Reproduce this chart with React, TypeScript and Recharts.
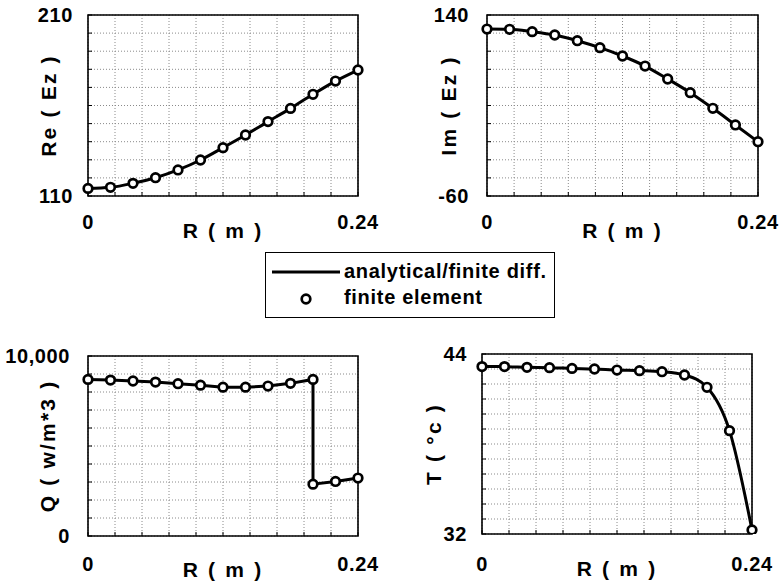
import { CartesianGrid, ComposedChart, Line, ReferenceArea, XAxis, YAxis } from "recharts";

const FONT = '"Liberation Sans", Arial, Helvetica, sans-serif';

// radial positions (m) of the nodes
const rNodes = [0, 0.02, 0.04, 0.06, 0.08, 0.1, 0.12, 0.14, 0.16, 0.18, 0.2, 0.22, 0.24];
// heat source has a jump at r = 0.20, so that node appears twice
const rNodesQ = [0, 0.02, 0.04, 0.06, 0.08, 0.1, 0.12, 0.14, 0.16, 0.18, 0.2, 0.2, 0.22, 0.24];

const reEz = [114.2, 114.8, 117.0, 120.1, 124.4, 129.9, 136.7, 143.7, 151.1, 158.4, 166.2, 173.5, 179.6];
const imEz = [124.5, 124.2, 121.6, 117.9, 111.6, 103.9, 94.7, 83.6, 69.3, 54.2, 36.9, 18.5, 0.0];
const heatQ = [8700, 8660, 8610, 8550, 8460, 8380, 8270, 8270, 8330, 8480, 8700, 2880, 3030, 3220];
const tempT = [43.16, 43.16, 43.11, 43.09, 43.04, 43.0, 42.93, 42.89, 42.82, 42.6, 41.78, 38.89, 32.27];

const rTicks = [0, 0.024, 0.048, 0.072, 0.096, 0.12, 0.144, 0.168, 0.192, 0.216, 0.24];
const reTicks = [110, 120, 130, 140, 150, 160, 170, 180, 190, 200, 210];
const imTicks = [-60, -40, -20, 0, 20, 40, 60, 80, 100, 120, 140];
const qTicks = [0, 1000, 2000, 3000, 4000, 5000, 6000, 7000, 8000, 9000, 10000];
const tTicks = [32, 33, 34, 35, 36, 37, 38, 39, 40, 41, 42, 43, 44];

const legendItems = ["analytical/finite diff.", "finite element"];

const toRows = (xs: number[], ys: number[]) => xs.map((r, i) => ({ r, v: ys[i] }));

const tickStyle = { fontSize: 20, fontWeight: 700, fill: "#000", fontFamily: FONT, letterSpacing: 0.6 };
const labelStyle = { fontSize: 21, fontWeight: 700, fill: "#000", fontFamily: FONT, letterSpacing: 2.2 };
const dotStyle = { r: 4.3, fill: "#fff", stroke: "#000", strokeWidth: 2.7 };

interface PanelProps {
  left: number;
  top: number;
  width: number;
  height: number;
  plot: { x: number; y: number; w: number; h: number }; // plot box, page coords
  data: { r: number; v: number }[];
  yTicks: number[];
  yLabel: string;
  yLabelGap: number;
  yTickGap: number;
  xTickGap: number;
  xLabelOffset: number;
  curve: "linear" | "monotone";
  fmt?: (v: number) => string;
}

function Panel(p: PanelProps) {
  const yMin = p.yTicks[0];
  const yMax = p.yTicks[p.yTicks.length - 1];
  const yAxisW = p.plot.x - p.left;
  const marginTop = p.plot.y - p.top;
  const marginRight = p.left + p.width - (p.plot.x + p.plot.w);
  const xAxisH = p.top + p.height - (p.plot.y + p.plot.h);
  const fmtY = (v: number) =>
    v === yMin || v === yMax ? (p.fmt ? p.fmt(v) : String(v)) : "";
  const fmtX = (v: number) => (v === 0 || v === 0.24 ? String(v) : "");

  return (
    <div style={{ position: "absolute", left: p.left, top: p.top }}>
      <ComposedChart
        width={p.width}
        height={p.height}
        data={p.data}
        margin={{ top: marginTop, right: marginRight, bottom: 0, left: 0 }}
      >
        <CartesianGrid stroke="#8a8a8a" strokeDasharray="1 2" strokeWidth={1} />
        <XAxis
          dataKey="r"
          type="number"
          domain={[0, 0.24]}
          ticks={rTicks}
          tickFormatter={fmtX}
          height={xAxisH}
          axisLine={false}
          tickSize={-4}
          tickLine={{ stroke: "#000", strokeWidth: 1 }}
          tickMargin={p.xTickGap + 4}
          tick={tickStyle}
          interval={0}
          label={{ value: "R ( m )", position: "insideBottom", offset: p.xLabelOffset, style: labelStyle }}
        />
        <YAxis
          type="number"
          domain={[yMin, yMax]}
          ticks={p.yTicks}
          tickFormatter={fmtY}
          width={yAxisW}
          axisLine={false}
          tickSize={-4}
          tickLine={{ stroke: "#000", strokeWidth: 1 }}
          tickMargin={p.yTickGap + 4}
          tick={tickStyle}
          interval={0}
          allowDataOverflow
          label={{
            value: p.yLabel,
            angle: -90,
            position: "insideLeft",
            offset: yAxisW - p.yLabelGap,
            style: { ...labelStyle, textAnchor: "middle" },
          }}
        />
        <ReferenceArea x1={0} x2={0.24} y1={yMin} y2={yMax} fill="none" stroke="#000" strokeWidth={1.6} />
        <Line
          dataKey="v"
          type={p.curve}
          stroke="#000"
          strokeWidth={3}
          dot={false}
          isAnimationActive={false}
        />
        <Line
          dataKey="v"
          stroke="none"
          dot={dotStyle}
          activeDot={false}
          isAnimationActive={false}
        />
      </ComposedChart>
    </div>
  );
}

function LegendBox() {
  return (
    <div
      style={{
        position: "absolute",
        left: 265,
        top: 252,
        width: 288,
        height: 64,
        border: "1.5px solid #000",
        background: "#fff",
      }}
    >
      <svg width={288} height={64} style={{ display: "block" }}>
        <line x1={6} x2={74} y1={19} y2={19} stroke="#000" strokeWidth={3} />
        <circle cx={40} cy={46} r={dotStyle.r} fill="#fff" stroke="#000" strokeWidth={dotStyle.strokeWidth} />
        <text x={78} y={25} fontFamily={FONT} fontWeight={700} fontSize={20} letterSpacing={0.7}>
          {legendItems[0]}
        </text>
        <text x={78} y={51} fontFamily={FONT} fontWeight={700} fontSize={20} letterSpacing={0.7}>
          {legendItems[1]}
        </text>
      </svg>
    </div>
  );
}

export default function App() {
  return (
    <div
      style={{
        position: "absolute",
        left: 0,
        top: 0,
        width: 782,
        height: 584,
        background: "#fff",
        fontFamily: FONT,
        overflow: "hidden",
      }}
    >
      <Panel
        left={0}
        top={0}
        width={390}
        height={250}
        plot={{ x: 88, y: 15, w: 270, h: 181 }}
        data={toRows(rNodes, reEz)}
        yTicks={reTicks}
        yLabel="Re ( Ez )"
        yLabelGap={39}
        yTickGap={15}
        xTickGap={19}
        xLabelOffset={12}
        curve="monotone"
      />
      <Panel
        left={390}
        top={0}
        width={392}
        height={250}
        plot={{ x: 487, y: 15, w: 271, h: 181 }}
        data={toRows(rNodes, imEz)}
        yTicks={imTicks}
        yLabel="Im ( Ez )"
        yLabelGap={38}
        yTickGap={18}
        xTickGap={19}
        xLabelOffset={12}
        curve="monotone"
      />
      <Panel
        left={0}
        top={330}
        width={390}
        height={254}
        plot={{ x: 88, y: 356, w: 270, h: 180 }}
        data={toRows(rNodesQ, heatQ)}
        yTicks={qTicks}
        yLabel="Q ( w/m*3 )"
        yLabelGap={40}
        yTickGap={18}
        xTickGap={21}
        xLabelOffset={7}
        curve="linear"
        fmt={(v) => v.toLocaleString("en-US")}
      />
      <Panel
        left={390}
        top={330}
        width={392}
        height={254}
        plot={{ x: 482, y: 354, w: 270, h: 180 }}
        data={toRows(rNodes, tempT)}
        yTicks={tTicks}
        yLabel="T ( °c )"
        yLabelGap={48}
        yTickGap={15}
        xTickGap={23}
        xLabelOffset={8}
        curve="monotone"
      />
      <LegendBox />
    </div>
  );
}
